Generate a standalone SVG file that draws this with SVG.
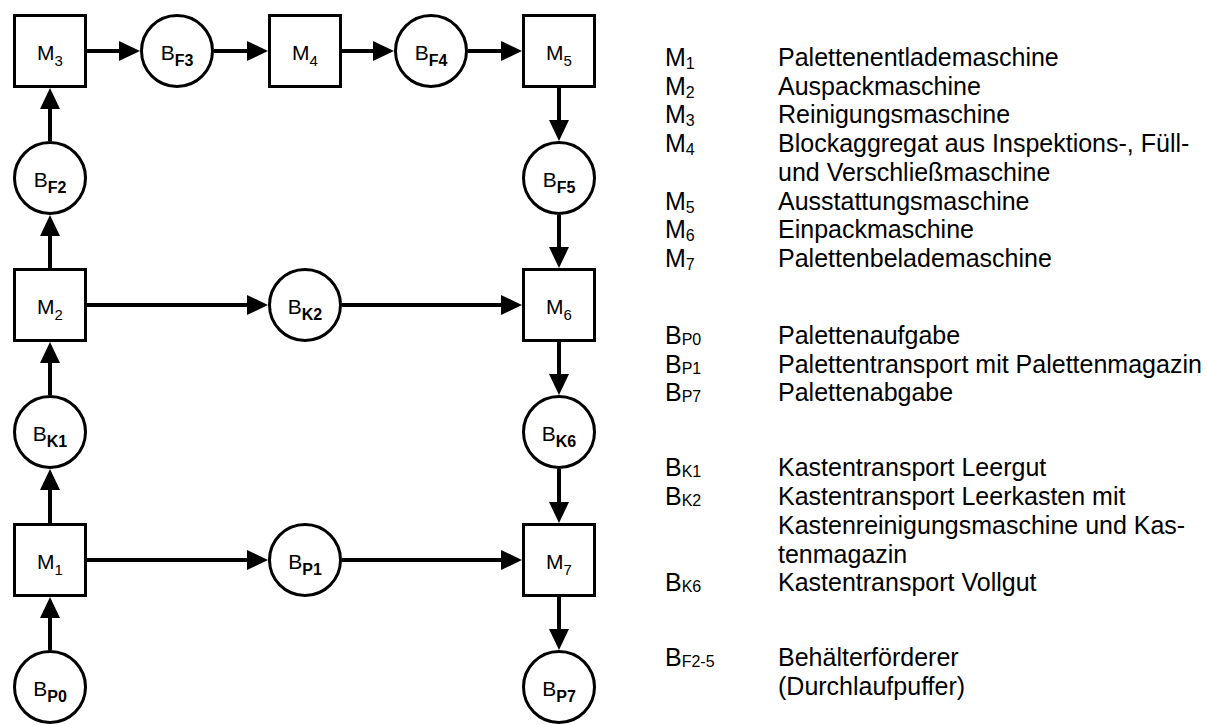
<svg xmlns="http://www.w3.org/2000/svg" width="1207" height="725" viewBox="0 0 1207 725">
<style>
.box{fill:#fff;stroke:#000;stroke-width:3}
.buf{fill:#fff;stroke:#000;stroke-width:3}
.lbl{font-family:"Liberation Sans",Arial,sans-serif;font-size:21px;fill:#000;text-anchor:middle}
.sm{font-size:15px}
.sb{font-size:16px;font-weight:bold}
.con line{stroke:#000;stroke-width:4;marker-end:url(#ah)}
.lg{font-family:"Liberation Sans",Arial,sans-serif;font-size:25px;fill:#000}
.ls{font-size:16px}
</style>
<defs>
<marker id="ah" markerUnits="userSpaceOnUse" markerWidth="21" markerHeight="20" refX="0" refY="10" orient="auto" overflow="visible">
<path d="M0,0 L21,10 L0,20 z" fill="#000"/>
</marker>
</defs>
<rect width="1207" height="725" fill="#fff"/>
<g class="con" id="connectors">
<line x1="87" y1="51" x2="119" y2="51"/>
<line x1="214" y1="51" x2="247" y2="51"/>
<line x1="342" y1="51" x2="373" y2="51"/>
<line x1="468" y1="51" x2="501" y2="51"/>
<line x1="50" y1="141" x2="50" y2="109"/>
<line x1="50" y1="268" x2="50" y2="236"/>
<line x1="50" y1="395" x2="50" y2="363"/>
<line x1="50" y1="523" x2="50" y2="490"/>
<line x1="50" y1="650" x2="50" y2="618"/>
<line x1="559" y1="88" x2="559" y2="120"/>
<line x1="559" y1="215" x2="559" y2="247"/>
<line x1="559" y1="342" x2="559" y2="374"/>
<line x1="559" y1="469" x2="559" y2="502"/>
<line x1="559" y1="597" x2="559" y2="629"/>
<line x1="87" y1="305" x2="247" y2="305"/>
<line x1="342" y1="305" x2="501" y2="305"/>
<line x1="87" y1="560" x2="247" y2="560"/>
<line x1="342" y1="560" x2="501" y2="560"/>
</g>
<g id="M3"><rect class="box" x="14.5" y="15.5" width="71" height="71"/><text class="lbl" x="50" y="60">M<tspan class="sm" dy="6">3</tspan></text></g>
<g id="BF3"><circle class="buf" cx="177" cy="51" r="35.5"/><text class="lbl" x="177" y="60">B<tspan class="sb" dy="6">F3</tspan></text></g>
<g id="M4"><rect class="box" x="269.5" y="15.5" width="71" height="71"/><text class="lbl" x="305" y="60">M<tspan class="sm" dy="6">4</tspan></text></g>
<g id="BF4"><circle class="buf" cx="431" cy="51" r="35.5"/><text class="lbl" x="431" y="60">B<tspan class="sb" dy="6">F4</tspan></text></g>
<g id="M5"><rect class="box" x="523.5" y="15.5" width="71" height="71"/><text class="lbl" x="559" y="60">M<tspan class="sm" dy="6">5</tspan></text></g>
<g id="BF2"><circle class="buf" cx="50" cy="178" r="35.5"/><text class="lbl" x="50" y="187">B<tspan class="sb" dy="6">F2</tspan></text></g>
<g id="BF5"><circle class="buf" cx="559" cy="178" r="35.5"/><text class="lbl" x="559" y="187">B<tspan class="sb" dy="6">F5</tspan></text></g>
<g id="M2"><rect class="box" x="14.5" y="269.5" width="71" height="71"/><text class="lbl" x="50" y="314">M<tspan class="sm" dy="6">2</tspan></text></g>
<g id="BK2"><circle class="buf" cx="305" cy="305" r="35.5"/><text class="lbl" x="305" y="314">B<tspan class="sb" dy="6">K2</tspan></text></g>
<g id="M6"><rect class="box" x="523.5" y="269.5" width="71" height="71"/><text class="lbl" x="559" y="314">M<tspan class="sm" dy="6">6</tspan></text></g>
<g id="BK1"><circle class="buf" cx="50" cy="432" r="35.5"/><text class="lbl" x="50" y="441">B<tspan class="sb" dy="6">K1</tspan></text></g>
<g id="BK6"><circle class="buf" cx="559" cy="432" r="35.5"/><text class="lbl" x="559" y="441">B<tspan class="sb" dy="6">K6</tspan></text></g>
<g id="M1"><rect class="box" x="14.5" y="524.5" width="71" height="71"/><text class="lbl" x="50" y="569">M<tspan class="sm" dy="6">1</tspan></text></g>
<g id="BP1"><circle class="buf" cx="305" cy="560" r="35.5"/><text class="lbl" x="305" y="569">B<tspan class="sb" dy="6">P1</tspan></text></g>
<g id="M7"><rect class="box" x="523.5" y="524.5" width="71" height="71"/><text class="lbl" x="559" y="569">M<tspan class="sm" dy="6">7</tspan></text></g>
<g id="BP0"><circle class="buf" cx="50" cy="687" r="35.5"/><text class="lbl" x="50" y="696">B<tspan class="sb" dy="6">P0</tspan></text></g>
<g id="BP7"><circle class="buf" cx="559" cy="687" r="35.5"/><text class="lbl" x="559" y="696">B<tspan class="sb" dy="6">P7</tspan></text></g>
<g id="legend" class="lg">
<text x="665" y="66">M<tspan class="ls" dy="3">1</tspan></text><text x="778" y="66">Palettenentlademaschine</text>
<text x="665" y="94.7">M<tspan class="ls" dy="3">2</tspan></text><text x="778" y="94.7">Auspackmaschine</text>
<text x="665" y="123.4">M<tspan class="ls" dy="3">3</tspan></text><text x="778" y="123.4">Reinigungsmaschine</text>
<text x="665" y="152">M<tspan class="ls" dy="3">4</tspan></text><text x="778" y="152">Blockaggregat aus Inspektions-, Füll-</text>
<text x="778" y="180.8">und Verschließmaschine</text>
<text x="665" y="209.5">M<tspan class="ls" dy="3">5</tspan></text><text x="778" y="209.5">Ausstattungsmaschine</text>
<text x="665" y="238.2">M<tspan class="ls" dy="3">6</tspan></text><text x="778" y="238.2">Einpackmaschine</text>
<text x="665" y="267">M<tspan class="ls" dy="3">7</tspan></text><text x="778" y="267">Palettenbelademaschine</text>
<text x="665" y="344">B<tspan class="ls" dy="1">P0</tspan></text><text x="778" y="344">Palettenaufgabe</text>
<text x="665" y="372.7">B<tspan class="ls" dy="1">P1</tspan></text><text x="778" y="372.7">Palettentransport mit Palettenmagazin</text>
<text x="665" y="401.4">B<tspan class="ls" dy="1">P7</tspan></text><text x="778" y="401.4">Palettenabgabe</text>
<text x="665" y="476.4">B<tspan class="ls" dy="1">K1</tspan></text><text x="778" y="476.4">Kastentransport Leergut</text>
<text x="665" y="505.1">B<tspan class="ls" dy="1">K2</tspan></text><text x="778" y="505.1">Kastentransport Leerkasten mit</text>
<text x="778" y="533.8">Kastenreinigungsmaschine und Kas-</text>
<text x="778" y="562.5">tenmagazin</text>
<text x="665" y="591.2">B<tspan class="ls" dy="1">K6</tspan></text><text x="778" y="591.2">Kastentransport Vollgut</text>
<text x="665" y="666">B<tspan class="ls" dy="1">F2-5</tspan></text><text x="778" y="666">Behälterförderer</text>
<text x="778" y="694.7">(Durchlaufpuffer)</text>
</g>
</svg>
